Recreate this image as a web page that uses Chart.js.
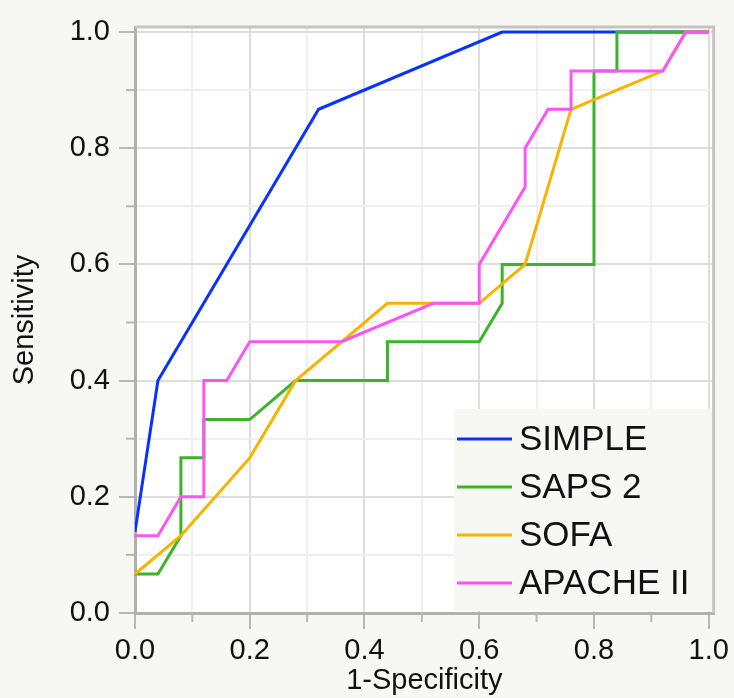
<!DOCTYPE html>
<html>
<head>
<meta charset="utf-8">
<script src="https://cdn.jsdelivr.net/npm/chart.js@4.4.1/dist/chart.umd.min.js"></script>
<style>
  body { margin: 0; background: #f7f7f3; }
  canvas { display: block; }
</style>
</head>
<body>
<canvas id="roc" width="734" height="698"></canvas>
<script>
// ROC curves, values (x = 1-specificity, y = sensitivity)
const seriesNames = ['SIMPLE', 'SAPS 2', 'SOFA', 'APACHE II'];
const seriesColors = ['#0a32ff', '#3ab52a', '#f6b400', '#fb55f6'];

const simpleX = [0, 0.04, 0.32, 0.64, 1.0];
const simpleY = [0.14, 0.4, 0.867, 1.0, 1.0];

const saps2X = [0, 0.04, 0.08, 0.08, 0.12, 0.12, 0.2, 0.28, 0.44, 0.44, 0.6, 0.64, 0.64, 0.8, 0.8, 0.84, 0.84, 1.0];
const saps2Y = [0.067, 0.067, 0.133, 0.267, 0.267, 0.333, 0.333, 0.4, 0.4, 0.467, 0.467, 0.533, 0.6, 0.6, 0.933, 0.933, 1.0, 1.0];

const sofaX = [0, 0.08, 0.2, 0.28, 0.44, 0.6, 0.68, 0.76, 0.92, 0.96, 1.0];
const sofaY = [0.067, 0.133, 0.267, 0.4, 0.533, 0.533, 0.6, 0.867, 0.933, 1.0, 1.0];

const apacheX = [0, 0.04, 0.08, 0.12, 0.12, 0.16, 0.2, 0.36, 0.52, 0.6, 0.6, 0.68, 0.68, 0.72, 0.76, 0.76, 0.92, 0.96, 1.0];
const apacheY = [0.133, 0.133, 0.2, 0.2, 0.4, 0.4, 0.467, 0.467, 0.533, 0.533, 0.6, 0.733, 0.8, 0.867, 0.867, 0.933, 0.933, 1.0, 1.0];

const tickValues = [0, 0.1, 0.2, 0.3, 0.4, 0.5, 0.6, 0.7, 0.8, 0.9, 1.0];

function pts(xs, ys) {
  return xs.map((x, i) => ({ x: x, y: ys[i] }));
}

const allX = [simpleX, saps2X, sofaX, apacheX];
const allY = [simpleY, saps2Y, sofaY, apacheY];

const datasets = seriesNames.map((name, i) => ({
  label: name,
  data: pts(allX[i], allY[i]),
  borderColor: seriesColors[i],
  backgroundColor: seriesColors[i],
  borderWidth: 3,
  pointRadius: 0,
  showLine: true,
  fill: false,
  tension: 0,
  order: seriesNames.length - i
}));

function isMajor(v) {
  return Math.round(v * 10) % 2 === 0;
}

const frameAndLegend = {
  id: 'frameAndLegend',
  beforeDraw(chart) {
    const a = chart.chartArea;
    const ctx = chart.ctx;
    ctx.save();
    ctx.fillStyle = '#ffffff';
    ctx.fillRect(a.left, a.top, a.right - a.left, a.bottom - a.top);
    ctx.restore();
  },
  afterDraw(chart) {
    const a = chart.chartArea;
    const ctx = chart.ctx;
    const xs = chart.scales.x, ys = chart.scales.y;
    ctx.save();

    // minor tick marks
    ctx.strokeStyle = '#b8b8b8';
    ctx.lineWidth = 2;
    tickValues.forEach(v => {
      if (isMajor(v)) return;
      const px = xs.getPixelForValue(v);
      ctx.beginPath(); ctx.moveTo(px, a.bottom); ctx.lineTo(px, a.bottom + 9); ctx.stroke();
      const py = ys.getPixelForValue(v);
      ctx.beginPath(); ctx.moveTo(a.left, py); ctx.lineTo(a.left - 9, py); ctx.stroke();
    });

    // legend box
    const lx = 454, ly = 409;
    ctx.fillStyle = '#f7f7f3';
    ctx.fillRect(lx, ly, a.right - lx, a.bottom - 2 - ly);
    ctx.font = '35px "Liberation Sans", Arial, sans-serif';
    ctx.textBaseline = 'middle';
    ctx.textAlign = 'left';
    chart.data.datasets.forEach((ds, i) => {
      const y = 439 + i * 48;
      ctx.strokeStyle = ds.borderColor;
      ctx.lineWidth = 3;
      ctx.beginPath(); ctx.moveTo(457, y); ctx.lineTo(512, y); ctx.stroke();
      ctx.fillStyle = '#111111';
      ctx.fillText(ds.label, 519, y + 1);
    });

    // top and right frame
    ctx.strokeStyle = '#c4c4c4';
    ctx.lineWidth = 3;
    ctx.beginPath();
    ctx.moveTo(a.left, a.top);
    ctx.lineTo(a.right, a.top);
    ctx.lineTo(a.right, a.bottom);
    ctx.stroke();
    ctx.restore();
  }
};

const tickFont = { family: '"Liberation Sans", Arial, sans-serif', size: 29 };
const titleFont = { family: '"Liberation Sans", Arial, sans-serif', size: 29 };

function axis(title, isX) {
  return {
    type: 'linear',
    min: 0,
    max: 1.0086,
    afterBuildTicks(scale) {
      scale.ticks = tickValues.map(v => ({ value: v }));
    },
    afterFit(scale) {
      if (isX) scale.height = 85; else scale.width = 135;
    },
    ticks: {
      stepSize: 0.1,
      includeBounds: false,
      autoSkip: false,
      maxRotation: 0,
      color: '#111111',
      font: tickFont,
      padding: isX ? 5 : 9,
      callback: v => (isMajor(v) ? v.toFixed(1) : '')
    },
    grid: {
      color: ctx => (isMajor(ctx.tick.value) ? '#dddddd' : '#efefef'),
      lineWidth: 2,
      drawTicks: true,
      tickLength: 16,
      tickWidth: 2,
      tickColor: ctx => (isMajor(ctx.tick.value) ? '#b8b8b8' : 'rgba(0,0,0,0)')
    },
    border: { color: '#b0b0b0', width: 3 },
    title: {
      display: true,
      text: title,
      color: '#111111',
      font: titleFont,
      padding: isX ? { top: 0, bottom: 0 } : { top: 8, bottom: 0 }
    }
  };
}

new Chart(document.getElementById('roc').getContext('2d'), {
  type: 'scatter',
  data: { datasets: datasets },
  options: {
    responsive: false,
    animation: false,
    layout: { padding: { top: 27, right: 14, left: 0, bottom: 0 } },
    plugins: {
      legend: { display: false },
      tooltip: { enabled: false }
    },
    scales: {
      x: axis('1-Specificity', true),
      y: axis('Sensitivity', false)
    }
  },
  plugins: [frameAndLegend]
});
</script>
</body>
</html>
